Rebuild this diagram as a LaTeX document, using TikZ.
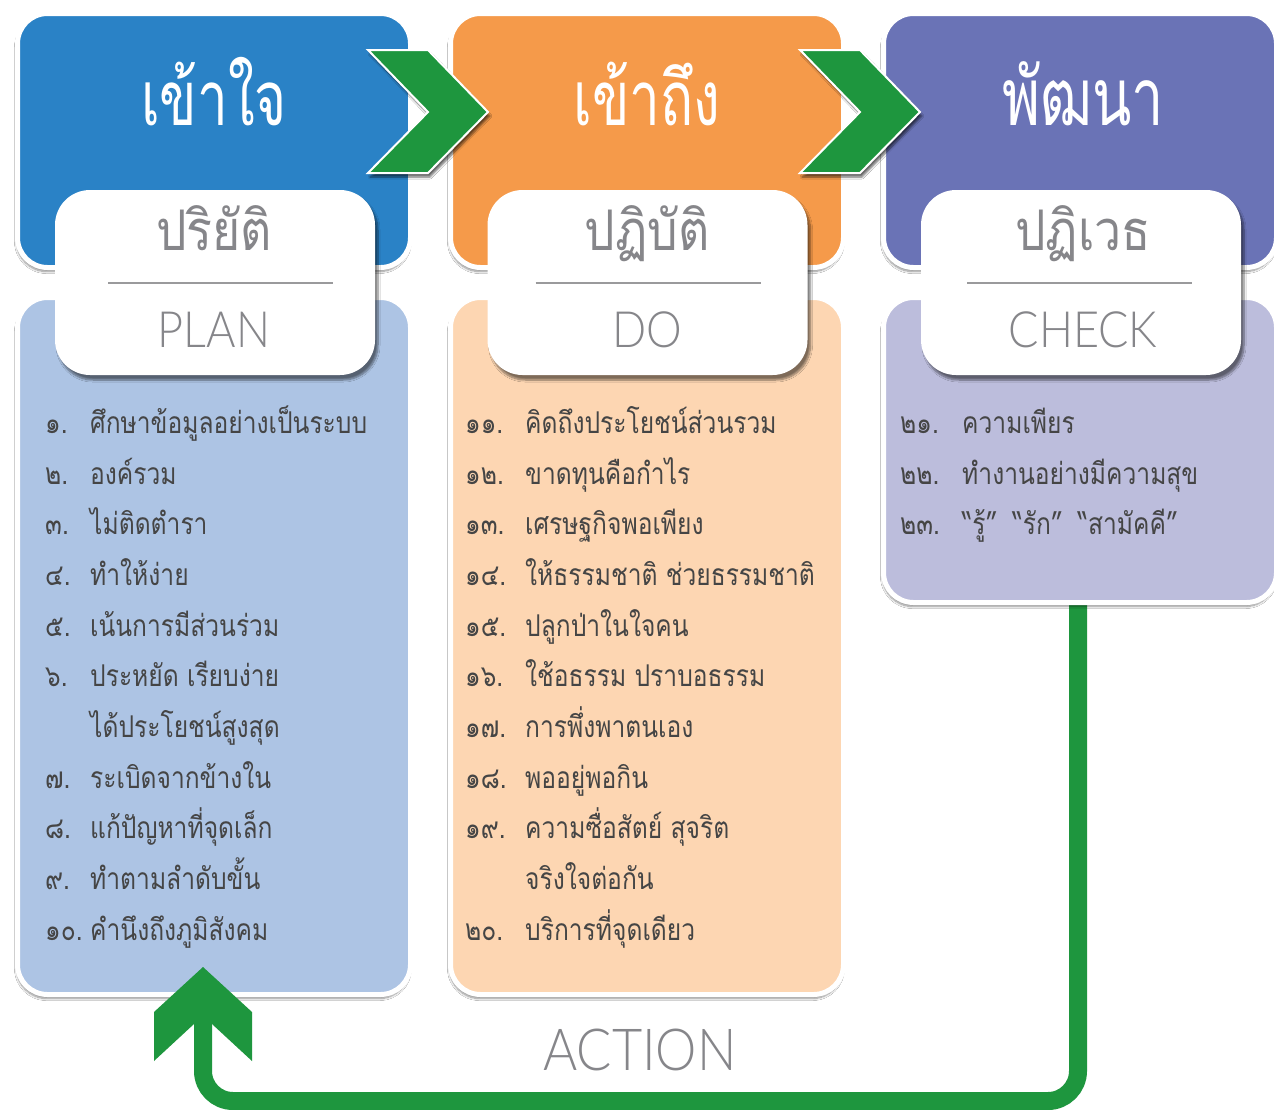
\documentclass[tikz,border=0pt]{standalone}
\usepackage{fontspec}
\setmainfont{Lato}
\newfontfamily\thaititle[Script=Thai, FakeStretch=0.72]{Loma}
\newfontfamily\thaisub[Script=Thai, FakeStretch=0.86]{Loma}
\newfontfamily\thaiitem[Script=Thai, FakeStretch=0.82]{Loma}
\newfontfamily\lat[FakeStretch=0.9]{Lato Light}
\usetikzlibrary{shadows.blur}
\definecolor{cblue}{HTML}{2A82C6}
\definecolor{corange}{HTML}{F59A4A}
\definecolor{cpurple}{HTML}{6A73B6}
\definecolor{lblue}{HTML}{ADC4E4}
\definecolor{lorange}{HTML}{FDD6B2}
\definecolor{lpurple}{HTML}{BCBDDC}
\definecolor{cgreen}{HTML}{1E963E}
\definecolor{labgray}{HTML}{86868A}
\definecolor{divgray}{HTML}{9A9A9C}
\definecolor{txt}{HTML}{454545}
\begin{document}
\begin{tikzpicture}[x=1pt,y=-1pt,
  panel/.style={draw=white, line width=5pt, rounded corners=30pt, minimum width=393pt,
    blur shadow={shadow xshift=-1pt, shadow yshift=-4pt, shadow opacity=45, shadow blur steps=8}},
  labelbox/.style={fill=white, rounded corners=35pt, minimum width=320pt, minimum height=185pt,
    blur shadow={shadow xshift=3pt, shadow yshift=-5pt, shadow opacity=50, shadow blur steps=8}},
  chev/.style={fill=cgreen, draw=white, line width=2pt,
    blur shadow={shadow xshift=2pt, shadow yshift=-4pt, shadow opacity=60, shadow blur steps=6}},
  title/.style={text=white, anchor=base, inner sep=0pt, font=\thaititle\fontsize{76}{76}\selectfont},
  subth/.style={text=labgray, anchor=base, inner sep=0pt, font=\thaisub\fontsize{56}{56}\selectfont},
  subla/.style={text=labgray, anchor=base, inner sep=0pt, font=\lat\fontsize{50}{50}\selectfont},
  divider/.style={draw=divgray, line width=2pt},
  num/.style={text=txt, anchor=base west, inner sep=0pt, font=\thaiitem\fontsize{30}{30}\selectfont},
  item/.style={text=txt, anchor=base west, inner sep=0pt, font=\thaiitem\fontsize{30}{30}\selectfont},
  loopline/.style={draw=cgreen, line width=18pt, rounded corners=30pt},
]
\useasboundingbox (0,0) rectangle (1274,1109);
\fill[white] (0,0) rectangle (1274,1109);

% green feedback loop (drawn first so it starts under the CHECK panel)
\coordinate (ahbase) at (203,1024);
\coordinate (lowy) at (0,1101);
\coordinate (rx) at (1078,0);
\draw[loopline] (rx |- 0,560) -- (rx |- lowy) -- (ahbase |- lowy) -- (ahbase);

% top panels
\node[panel, fill=cblue, minimum height=254pt] (t1) at (214,140.5) {};
\node[panel, fill=corange, minimum height=254pt] (t2) at (647,140.5) {};
\node[panel, fill=cpurple, minimum height=254pt] (t3) at (1080,140.5) {};

% bottom panels
\node[panel, fill=lblue, minimum height=697pt] (b1) at (214,646) {};
\node[panel, fill=lorange, minimum height=697pt] (b2) at (647,646) {};
\node[panel, fill=lpurple, minimum height=305pt] (b3) at (1080,450) {};

% chevrons
\draw[chev] (368,50) -- (428,50) -- (488,112) -- (428,173) -- (368,173) -- (428,112) -- cycle;
\draw[chev] (800,50) -- (860,50) -- (920,112) -- (860,173) -- (800,173) -- (860,112) -- cycle;

% titles
\node[title] (h1) at (214,125) {เข้าใจ};
\node[title] (h2) at (647,125) {เข้าถึง};
\node[title, font=\thaititle\fontsize{80}{80}\selectfont] (h3) at (1083,125) {พัฒนา};

% label boxes
\node[labelbox] (l1) at (215,282.5) {};
\node[labelbox] (l2) at (647.5,282.5) {};
\node[labelbox] (l3) at (1081,282.5) {};
\draw[divider] ([xshift=-107pt]l1.center) -- ([xshift=118pt]l1.center);
\draw[divider] ([xshift=-112pt]l2.center) -- ([xshift=113pt]l2.center);
\draw[divider] ([xshift=-114pt]l3.center) -- ([xshift=111pt]l3.center);
\node[subth] (s1) at (214,250) {ปริยัติ};
\node[subth] (s2) at (647,250) {ปฏิบัติ};
\node[subth] (s3) at (1083,250) {ปฏิเวธ};
\node[subla] (e1) at (214,347) {PLAN};
\node[subla] (e2) at (647,347) {DO};
\node[subla] (e3) at (1083,347) {CHECK};

% left list
\node[num] (n1) at (45,433) {๑.};   \node[item] (i1) at (90,433) {ศึกษาข้อมูลอย่างเป็นระบบ};
\node[num] (n2) at (45,484) {๒.};   \node[item] (i2) at (90,484) {องค์รวม};
\node[num] (n3) at (45,534) {๓.};   \node[item] (i3) at (90,534) {ไม่ติดตำรา};
\node[num] (n4) at (45,585) {๔.};   \node[item] (i4) at (90,585) {ทำให้ง่าย};
\node[num] (n5) at (45,636) {๕.};   \node[item] (i5) at (90,636) {เน้นการมีส่วนร่วม};
\node[num] (n6) at (45,686) {๖.};   \node[item] (i6) at (90,686) {ประหยัด เรียบง่าย};
                                     \node[item] (i6b) at (90,737) {ได้ประโยชน์สูงสุด};
\node[num] (n7) at (45,788) {๗.};   \node[item] (i7) at (90,788) {ระเบิดจากข้างใน};
\node[num] (n8) at (45,838) {๘.};   \node[item] (i8) at (90,838) {แก้ปัญหาที่จุดเล็ก};
\node[num] (n9) at (45,889) {๙.};   \node[item] (i9) at (90,889) {ทำตามลำดับขั้น};
\node[num] (n10) at (45,940) {๑๐.}; \node[item] (i10) at (90,940) {คำนึงถึงภูมิสังคม};

% middle list
\node[num] (n11) at (465,433) {๑๑.}; \node[item] (i11) at (525,433) {คิดถึงประโยชน์ส่วนรวม};
\node[num] (n12) at (465,484) {๑๒.}; \node[item] (i12) at (525,484) {ขาดทุนคือกำไร};
\node[num] (n13) at (465,534) {๑๓.}; \node[item] (i13) at (525,534) {เศรษฐกิจพอเพียง};
\node[num] (n14) at (465,585) {๑๔.}; \node[item] (i14) at (525,585) {ให้ธรรมชาติ ช่วยธรรมชาติ};
\node[num] (n15) at (465,636) {๑๕.}; \node[item] (i15) at (525,636) {ปลูกป่าในใจคน};
\node[num] (n16) at (465,686) {๑๖.}; \node[item] (i16) at (525,686) {ใช้อธรรม ปราบอธรรม};
\node[num] (n17) at (465,737) {๑๗.}; \node[item] (i17) at (525,737) {การพึ่งพาตนเอง};
\node[num] (n18) at (465,788) {๑๘.}; \node[item] (i18) at (525,788) {พออยู่พอกิน};
\node[num] (n19) at (465,838) {๑๙.}; \node[item] (i19) at (525,838) {ความซื่อสัตย์ สุจริต};
                                      \node[item] (i19b) at (525,889) {จริงใจต่อกัน};
\node[num] (n20) at (465,940) {๒๐.}; \node[item] (i20) at (525,940) {บริการที่จุดเดียว};

% right list
\node[num] (n21) at (900,433) {๒๑.}; \node[item] (i21) at (962,433) {ความเพียร};
\node[num] (n22) at (900,484) {๒๒.}; \node[item] (i22) at (962,484) {ทำงานอย่างมีความสุข};
\node[num] (n23) at (900,534) {๒๓.}; \node[item] (i23) at (962,534) {“รู้”\enspace“รัก”\enspace“สามัคคี”};

% arrow head of the loop
\fill[cgreen] (203,967) coordinate (ahtip) -- (252,1012) -- (252,1061) -- (212,1024) -- (194,1024) -- (154,1061) -- (154,1012) -- cycle;

% ACTION label
\node[subla, font=\lat\fontsize{58}{58}\selectfont] (act) at (640,1070) {ACTION};
\end{tikzpicture}
\end{document}
